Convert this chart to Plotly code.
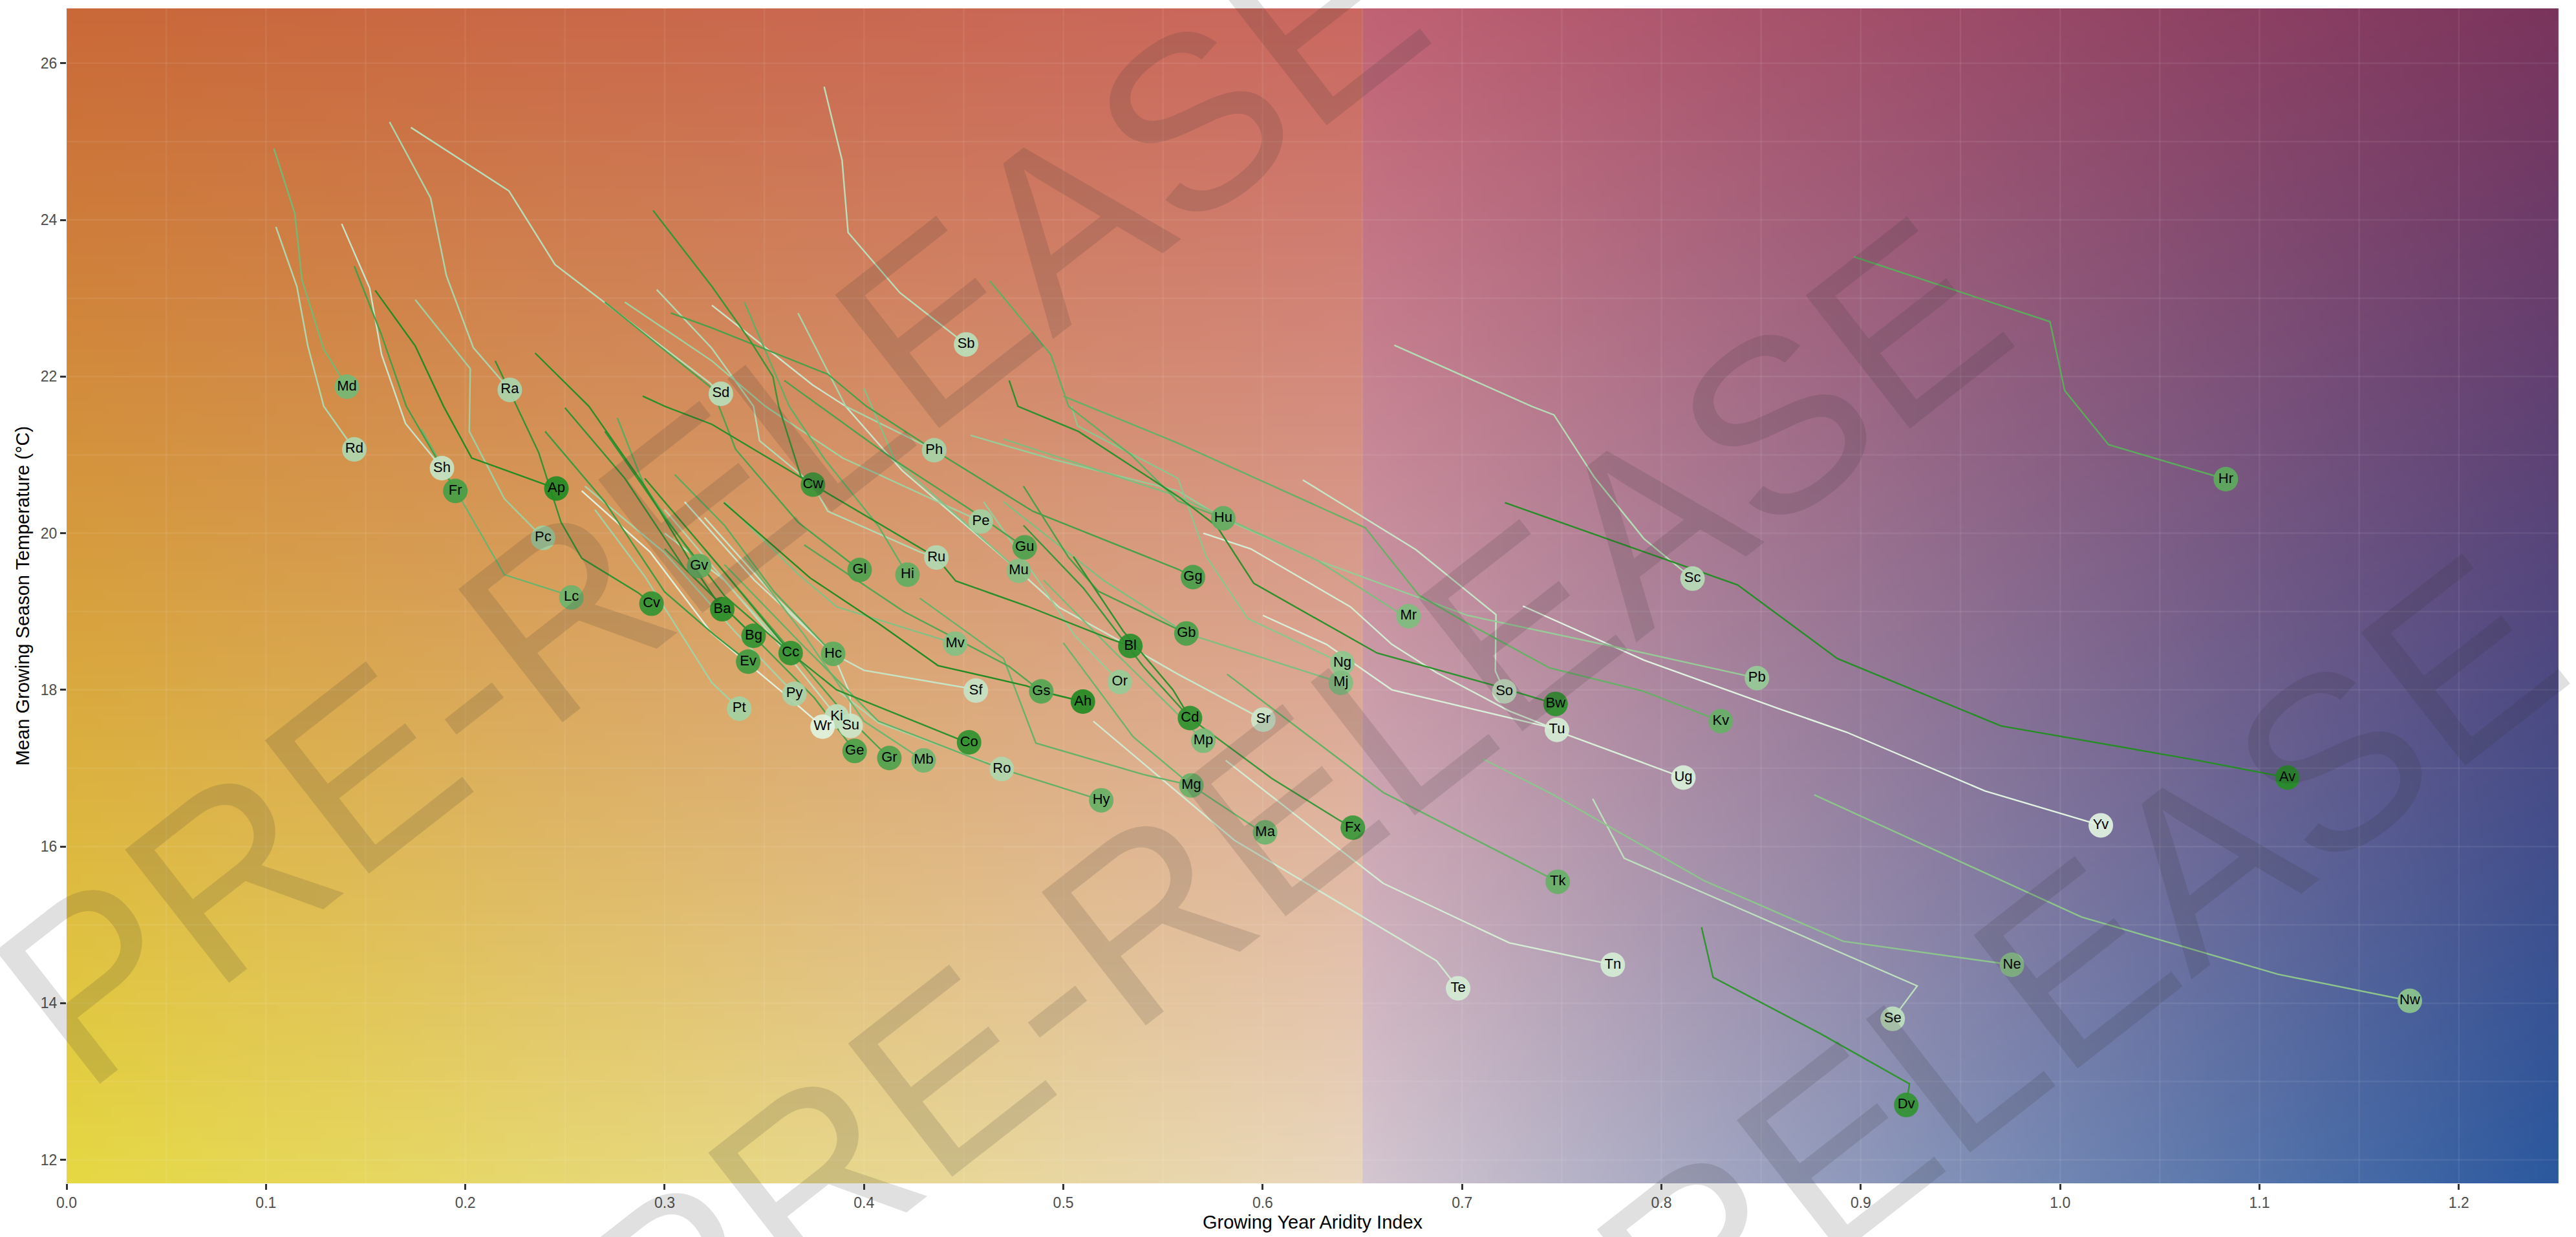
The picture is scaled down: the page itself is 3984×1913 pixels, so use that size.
import numpy as np
import plotly.graph_objects as go

# ---------------- data: trajectories (aridity index, growing-season temperature) ----------------
aridity = {
    "Md": [0.104, 0.1145, 0.118, 0.129, 0.1406],
    "Rd": [0.105, 0.1155, 0.121, 0.129, 0.1443],
    "Sh": [0.138, 0.152, 0.158, 0.170, 0.1883],
    "Ra": [0.162, 0.1826, 0.1905, 0.204, 0.2223],
    "Sd": [0.1727, 0.2219, 0.245, 0.3225, 0.3282],
    "Sb": [0.380, 0.389, 0.392, 0.418, 0.4512],
    "Fr": [0.1443, 0.1577, 0.1704, 0.1950],
    "Ap": [0.1548, 0.1749, 0.1891, 0.2032, 0.2457],
    "Pc": [0.1749, 0.2025, 0.2020, 0.2196, 0.2390],
    "Lc": [0.1779, 0.1988, 0.2196, 0.2479, 0.2532],
    "Cw": [0.2942, 0.3237, 0.3431, 0.3543, 0.3572, 0.3684, 0.3744],
    "Hr": [0.8965, 0.9949, 1.0023, 1.0243, 1.0831],
    "Sc": [0.666, 0.7349, 0.7461, 0.7662, 0.7912, 0.8156],
    "Av": [0.7215, 0.8382, 0.8882, 0.9703, 1.0688, 1.114],
    "Yv": [0.7305, 0.7912, 0.8588, 0.8928, 0.9622, 1.0204],
    "Ne": [0.7103, 0.7458, 0.8217, 0.8912, 0.9758],
    "Se": [0.7655, 0.7813, 0.9283, 0.916],
    "Nw": [0.8766, 1.0107, 1.1092, 1.1754],
    "Dv": [0.8201, 0.8259, 0.8798, 0.9244, 0.9228],
    "Tn": [0.5814, 0.6604, 0.7237, 0.7756],
    "Te": [0.515, 0.5575, 0.5858, 0.6872, 0.698],
    "Tk": [0.5821, 0.6604, 0.748],
    "Kv": [0.50, 0.5575, 0.6514, 0.6783, 0.7006, 0.7439, 0.7913, 0.8298],
    "Pb": [0.4534, 0.4952, 0.5575, 0.5802, 0.6276, 0.7029, 0.7913, 0.8479],
    "Mr": [0.47, 0.5575, 0.5858, 0.6276, 0.6679, 0.6731],
    "Hu": [0.4631, 0.4937, 0.5026, 0.5339, 0.5575, 0.5802],
    "Ng": [0.5041, 0.5071, 0.5575, 0.5717, 0.5925, 0.6336, 0.6399],
    "So": [0.6201, 0.6768, 0.717, 0.7167, 0.7212],
    "Tu": [0.5702, 0.594, 0.644, 0.6648, 0.6872, 0.7237, 0.7476],
    "Ug": [0.6001, 0.632, 0.6648, 0.7409, 0.7523, 0.811],
    "Bw": [0.4728, 0.4772, 0.5075, 0.5575, 0.5769, 0.5955, 0.6574, 0.7156, 0.7469],
    "Sr": [0.3237, 0.3744, 0.3908, 0.4191, 0.4776, 0.4981, 0.528, 0.5575, 0.6003],
    "Mu": [0.400, 0.4155, 0.4776],
    "Ph": [0.3669, 0.3826, 0.3908, 0.4281, 0.4352],
    "Gg": [0.3031, 0.3237, 0.3818, 0.4012, 0.4352, 0.4847, 0.5575, 0.565],
    "Pe": [0.28, 0.3237, 0.3505, 0.3893, 0.4586],
    "Gu": [0.36, 0.4155, 0.4534, 0.4806],
    "Ru": [0.296, 0.3237, 0.3446, 0.3476, 0.3744, 0.3818, 0.4281, 0.4363],
    "Gl": [0.27, 0.3237, 0.3356, 0.3669, 0.3978],
    "Hi": [0.34, 0.3625, 0.3804, 0.4072, 0.4218],
    "Bl": [0.289, 0.3001, 0.3237, 0.3744, 0.4363, 0.446, 0.4817, 0.5235, 0.5336],
    "Gb": [0.48, 0.5026, 0.5175, 0.5617],
    "Mj": [0.47, 0.52, 0.5617, 0.6321, 0.6392],
    "Cd": [0.505, 0.53, 0.555, 0.5635],
    "Fx": [0.48, 0.51, 0.54, 0.5635, 0.6045, 0.6388, 0.6452],
    "Ma": [0.50, 0.535, 0.5642, 0.5968, 0.6012],
    "Mg": [0.428, 0.47, 0.4862, 0.54, 0.5642],
    "Mp": [0.49, 0.525, 0.555, 0.5702],
    "Or": [0.46, 0.49, 0.5055, 0.5283],
    "Gs": [0.37, 0.42, 0.4727, 0.4889],
    "Ah": [0.3297, 0.3729, 0.4072, 0.4371, 0.4817, 0.4889, 0.5098],
    "Mv": [0.33, 0.3669, 0.3863, 0.44, 0.4457],
    "Sf": [0.32, 0.355, 0.3845, 0.40, 0.4504, 0.4561],
    "Hy": [0.33, 0.37, 0.4072, 0.4691, 0.513, 0.519],
    "Ro": [0.30, 0.335, 0.3632, 0.4072, 0.4639, 0.4691],
    "Co": [0.29, 0.33, 0.3632, 0.3863, 0.4475, 0.4527],
    "Mb": [0.34, 0.37, 0.40, 0.4299],
    "Gr": [0.32, 0.355, 0.39, 0.4127],
    "Ge": [0.30, 0.34, 0.375, 0.3953],
    "Su": [0.31, 0.345, 0.3845, 0.393, 0.3933],
    "Ki": [0.30, 0.33, 0.36, 0.3863],
    "Wr": [0.2584, 0.2927, 0.3237, 0.36, 0.3792],
    "Pt": [0.265, 0.29, 0.3237, 0.3374],
    "Py": [0.26, 0.30, 0.335, 0.3651],
    "Hc": [0.305, 0.33, 0.355, 0.3845],
    "Cc": [0.27, 0.30, 0.33, 0.3632],
    "Ev": [0.24, 0.27, 0.30, 0.325, 0.3419],
    "Bg": [0.25, 0.28, 0.31, 0.3446],
    "Ba": [0.235, 0.262, 0.29, 0.315, 0.3289],
    "Gv": [0.2763, 0.2897, 0.3173],
    "Cv": [0.215, 0.2368, 0.248, 0.2584, 0.2867, 0.2934],
}

temperature = {
    "Md": [24.91, 24.08, 23.24, 22.35, 21.87],
    "Rd": [23.91, 23.15, 22.39, 21.62, 21.07],
    "Sh": [23.95, 23.13, 22.28, 21.40, 20.83],
    "Ra": [25.25, 24.28, 23.29, 22.37, 21.83],
    "Sd": [25.18, 24.37, 23.43, 21.92, 21.78],
    "Sb": [25.70, 24.76, 23.84, 23.07, 22.41],
    "Fr": [23.41, 22.55, 21.62, 20.54],
    "Ap": [23.10, 22.39, 21.62, 20.96, 20.57],
    "Pc": [22.98, 22.10, 21.30, 20.44, 19.94],
    "Lc": [21.33, 20.39, 19.47, 19.24, 19.18],
    "Cw": [24.12, 23.15, 22.45, 22.00, 21.62, 20.72, 20.62],
    "Hr": [23.53, 22.70, 21.82, 21.13, 20.69],
    "Sc": [22.40, 21.62, 21.51, 20.72, 19.93, 19.42],
    "Av": [20.39, 19.34, 18.40, 17.54, 17.10, 16.88],
    "Yv": [19.07, 18.38, 17.76, 17.46, 16.71, 16.27],
    "Ne": [17.12, 16.66, 15.56, 14.79, 14.49],
    "Se": [16.61, 15.85, 14.22, 13.80],
    "Nw": [16.66, 15.10, 14.37, 14.03],
    "Dv": [14.97, 14.33, 13.61, 12.97, 12.70],
    "Tn": [17.10, 15.53, 14.77, 14.49],
    "Te": [17.60, 16.69, 16.08, 14.54, 14.19],
    "Tk": [18.20, 16.69, 15.55],
    "Kv": [21.75, 21.15, 20.07, 19.21, 18.88, 18.28, 17.98, 17.60],
    "Pb": [21.25, 20.94, 20.54, 20.19, 19.65, 18.95, 18.47, 18.15],
    "Mr": [21.20, 20.47, 20.14, 19.65, 18.99, 18.94],
    "Hu": [23.22, 22.28, 21.62, 21.00, 20.41, 20.19],
    "Ng": [21.62, 21.37, 20.70, 19.70, 18.91, 18.42, 18.34],
    "So": [20.68, 19.79, 18.96, 18.24, 17.98],
    "Tu": [20.00, 19.80, 19.06, 18.58, 18.22, 17.73, 17.49],
    "Ug": [18.95, 18.58, 18.00, 17.54, 17.43, 16.88],
    "Bw": [21.95, 21.62, 21.30, 20.47, 20.09, 19.36, 18.47, 18.06, 17.82],
    "Sr": [22.91, 21.89, 21.62, 20.80, 19.52, 19.05, 18.63, 18.20, 17.62],
    "Mu": [21.85, 20.93, 19.52],
    "Ph": [22.81, 22.03, 21.62, 21.15, 21.06],
    "Gg": [22.81, 22.62, 22.03, 21.62, 21.06, 20.28, 19.54, 19.44],
    "Pe": [22.95, 22.20, 21.62, 20.96, 20.15],
    "Gu": [21.95, 20.93, 20.30, 19.82],
    "Ru": [23.11, 22.36, 21.62, 21.18, 20.62, 20.28, 19.76, 19.69],
    "Gl": [22.95, 21.85, 21.07, 20.14, 19.53],
    "Hi": [22.95, 21.62, 20.94, 20.09, 19.47],
    "Bl": [21.75, 21.62, 21.39, 20.62, 19.69, 19.39, 19.07, 18.65, 18.56],
    "Gb": [20.60, 19.69, 19.26, 18.72],
    "Mj": [20.40, 19.40, 18.72, 18.15, 18.09],
    "Cd": [19.70, 18.75, 18.00, 17.64],
    "Fx": [20.10, 19.30, 18.30, 17.64, 16.87, 16.33, 16.24],
    "Ma": [18.60, 17.40, 16.78, 16.23, 16.18],
    "Mg": [19.17, 18.40, 17.32, 16.92, 16.78],
    "Mp": [19.40, 18.50, 17.75, 17.35],
    "Or": [20.40, 19.30, 18.70, 18.10],
    "Gs": [19.85, 19.00, 18.30, 17.98],
    "Ah": [20.39, 19.43, 18.85, 18.31, 18.05, 17.98, 17.85],
    "Mv": [20.40, 19.48, 19.06, 18.63, 18.59],
    "Sf": [20.20, 19.20, 18.46, 18.25, 18.03, 17.99],
    "Hy": [19.60, 18.55, 17.60, 16.99, 16.64, 16.59],
    "Ro": [20.30, 19.25, 18.47, 17.58, 17.05, 16.99],
    "Co": [20.70, 19.50, 18.47, 18.00, 17.37, 17.33],
    "Mb": [19.70, 18.70, 17.60, 17.10],
    "Gr": [19.80, 18.75, 17.70, 17.13],
    "Ge": [19.80, 18.80, 17.90, 17.22],
    "Su": [20.40, 19.40, 18.46, 17.95, 17.54],
    "Ki": [20.00, 19.40, 18.50, 17.66],
    "Wr": [20.54, 19.76, 18.72, 17.95, 17.53],
    "Pt": [20.30, 19.45, 18.09, 17.76],
    "Py": [20.60, 19.75, 18.75, 17.95],
    "Hc": [20.75, 20.10, 19.25, 18.46],
    "Cc": [21.30, 20.20, 19.20, 18.47],
    "Ev": [21.30, 20.40, 19.25, 18.70, 18.36],
    "Bg": [21.60, 20.70, 19.55, 18.69],
    "Ba": [22.30, 21.62, 20.60, 19.55, 19.03],
    "Gv": [21.47, 20.61, 19.58],
    "Cv": [22.20, 21.03, 20.14, 19.68, 19.24, 19.10],
}

# colour value of each site (0 = dark green ... 1 = near white)
shade = {
    "Ah": 0.0, "Ap": 0.0, "Av": 0.02, "Ba": 0.03, "Bg": 0.08, "Bl": 0.04, "Bw": 0.05,
    "Cc": 0.08, "Cd": 0.06, "Co": 0.06, "Cv": 0.08, "Cw": 0.10, "Dv": 0.08, "Ev": 0.15,
    "Fr": 0.18, "Fx": 0.12, "Gb": 0.20, "Ge": 0.20, "Gg": 0.20, "Gl": 0.22, "Gr": 0.22,
    "Gs": 0.25, "Gu": 0.22, "Gv": 0.30, "Hc": 0.30, "Hi": 0.33, "Hr": 0.30, "Hu": 0.33,
    "Hy": 0.35, "Ki": 0.80, "Kv": 0.35, "Lc": 0.38, "Ma": 0.38, "Mb": 0.40, "Md": 0.42,
    "Mg": 0.36, "Mj": 0.48, "Mp": 0.45, "Mr": 0.47, "Mu": 0.50, "Mv": 0.50, "Ne": 0.55,
    "Ng": 0.55, "Nw": 0.55, "Or": 0.60, "Pb": 0.60, "Pc": 0.64, "Pe": 0.65, "Ph": 0.68,
    "Pt": 0.66, "Py": 0.68, "Ra": 0.70, "Rd": 0.72, "Ro": 0.72, "Ru": 0.74, "Sb": 0.78,
    "Sc": 0.76, "Sd": 0.77, "Se": 0.80, "Sf": 0.84, "Sh": 0.84, "So": 0.85, "Sr": 0.86,
    "Su": 0.86, "Te": 0.90, "Tk": 0.35, "Tn": 0.92, "Tu": 0.92, "Ug": 0.94, "Wr": 0.97,
    "Yv": 0.98,
}

x_ticks = [0.0, 0.1, 0.2, 0.3, 0.4, 0.5, 0.6, 0.7, 0.8, 0.9, 1.0, 1.1, 1.2]
x_tick_labels = ["0.0", "0.1", "0.2", "0.3", "0.4", "0.5", "0.6", "0.7", "0.8", "0.9", "1.0", "1.1", "1.2"]
y_ticks = [12, 14, 16, 18, 20, 22, 24, 26]
y_tick_labels = ["12", "14", "16", "18", "20", "22", "24", "26"]

# ---------------- styling ----------------
X_RANGE = [0.0, 1.25]
Y_RANGE = [11.7, 26.7]
SPLIT = 0.65
DARK = np.array([34, 139, 34], float)
LIGHT = np.array([229, 245, 229], float)
COLORSCALE = [[0, "rgb(34,139,34)"], [1, "rgb(229,245,229)"]]


def green(t):
    c = DARK + (LIGHT - DARK) * t
    return "rgb(%d,%d,%d)" % tuple(np.round(c).astype(int))


# background: two bilinear gradient panels
panels = [
    (X_RANGE[0], SPLIT, dict(tl=(201, 104, 56), tr=(201, 103, 96), bl=(229, 216, 66), br=(233, 214, 190))),
    (SPLIT, X_RANGE[1], dict(tl=(192, 98, 115), tr=(122, 52, 92), bl=(212, 198, 208), br=(42, 88, 158))),
]
nx, ny = 500, 300
dx = (X_RANGE[1] - X_RANGE[0]) / nx
dy = (Y_RANGE[1] - Y_RANGE[0]) / ny
xc = X_RANGE[0] + dx * (np.arange(nx) + 0.5)
yc = Y_RANGE[0] + dy * (np.arange(ny) + 0.5)
XX, YY = np.meshgrid(xc, yc)
img = np.zeros((ny, nx, 3))
for x0, x1, c in panels:
    m = (XX >= x0) & (XX < x1) if x1 < X_RANGE[1] else (XX >= x0)
    u = ((XX - x0) / (x1 - x0))[..., None]
    v = ((YY - Y_RANGE[0]) / (Y_RANGE[1] - Y_RANGE[0]))[..., None]
    col = ((1 - u) * (1 - v) * np.array(c["bl"]) + u * (1 - v) * np.array(c["br"])
           + (1 - u) * v * np.array(c["tl"]) + u * v * np.array(c["tr"]))
    img[m] = col[m]
img = np.clip(np.round(img), 0, 255).astype(np.uint8)

fig = go.Figure()
fig.add_trace(go.Image(z=img, x0=xc[0], dx=dx, y0=yc[0], dy=dy, zsmooth="fast",
                       hoverinfo="skip"))

# grid lines (drawn over the background)
gx, gy = [], []
for g in np.arange(0, 1.2501, 0.05):
    gx += [g, g, None]
    gy += [Y_RANGE[0], Y_RANGE[1], None]
for g in np.arange(12, 26.01, 1.0):
    gx += [X_RANGE[0], X_RANGE[1], None]
    gy += [g, g, None]
fig.add_trace(go.Scatter(x=gx, y=gy, mode="lines", line=dict(color="rgba(255,255,255,0.07)", width=2.5),
                         hoverinfo="skip", showlegend=False))

names = list(aridity.keys())
for n in sorted(names, key=lambda k: -shade[k]):
    fig.add_trace(go.Scatter(x=aridity[n], y=temperature[n], mode="lines",
                             line=dict(color=green(shade[n]), width=2.4),
                             hoverinfo="skip", showlegend=False))

fig.add_trace(go.Scatter(
    x=[aridity[n][-1] for n in names], y=[temperature[n][-1] for n in names],
    mode="markers+text", text=names, textposition="middle center",
    textfont=dict(size=22, color="black", family="Liberation Sans"),
    marker=dict(size=38, color=[shade[n] for n in names], colorscale=COLORSCALE, cmin=0, cmax=1,
                opacity=0.92, line=dict(width=0)),
    hoverinfo="text", showlegend=False))

# PRE-RELEASE watermark
for px_, py_ in [(0.258, 0.582), (0.492, 0.324), (0.715, 0.037)]:
    fig.add_annotation(text="PRE-RELEASE", xref="paper", yref="paper", x=px_, y=py_,
                       xanchor="center", yanchor="middle", showarrow=False, textangle=-38,
                       font=dict(size=380, family="Liberation Sans", color="rgba(50,50,50,0.15)"))

axis_common = dict(showgrid=False, zeroline=False, showline=False, ticks="outside", ticklen=9,
                   tickwidth=3, tickcolor="#333333",
                   tickfont=dict(size=23, color="#4D4D4D", family="Liberation Sans"))
fig.update_xaxes(range=X_RANGE, tickvals=x_ticks, ticktext=x_tick_labels,
                 title=dict(text="Growing Year Aridity Index", standoff=8,
                            font=dict(size=29, color="black", family="Liberation Sans")),
                 **axis_common)
fig.update_yaxes(range=Y_RANGE, tickvals=y_ticks, ticktext=y_tick_labels, scaleanchor=False,
                 title=dict(text="Mean Growing Season Temperature (°C)", standoff=8,
                            font=dict(size=29, color="black", family="Liberation Sans")),
                 **axis_common)
fig.update_layout(width=3984, height=1913, margin=dict(l=103, r=27, t=13, b=77),
                  paper_bgcolor="white", plot_bgcolor="white", showlegend=False,
                  font=dict(family="Liberation Sans"))

fig.write_html("out.html", config={"displayModeBar": False},
               post_script="document.body.style.margin='0';document.body.style.overflow='hidden';")
